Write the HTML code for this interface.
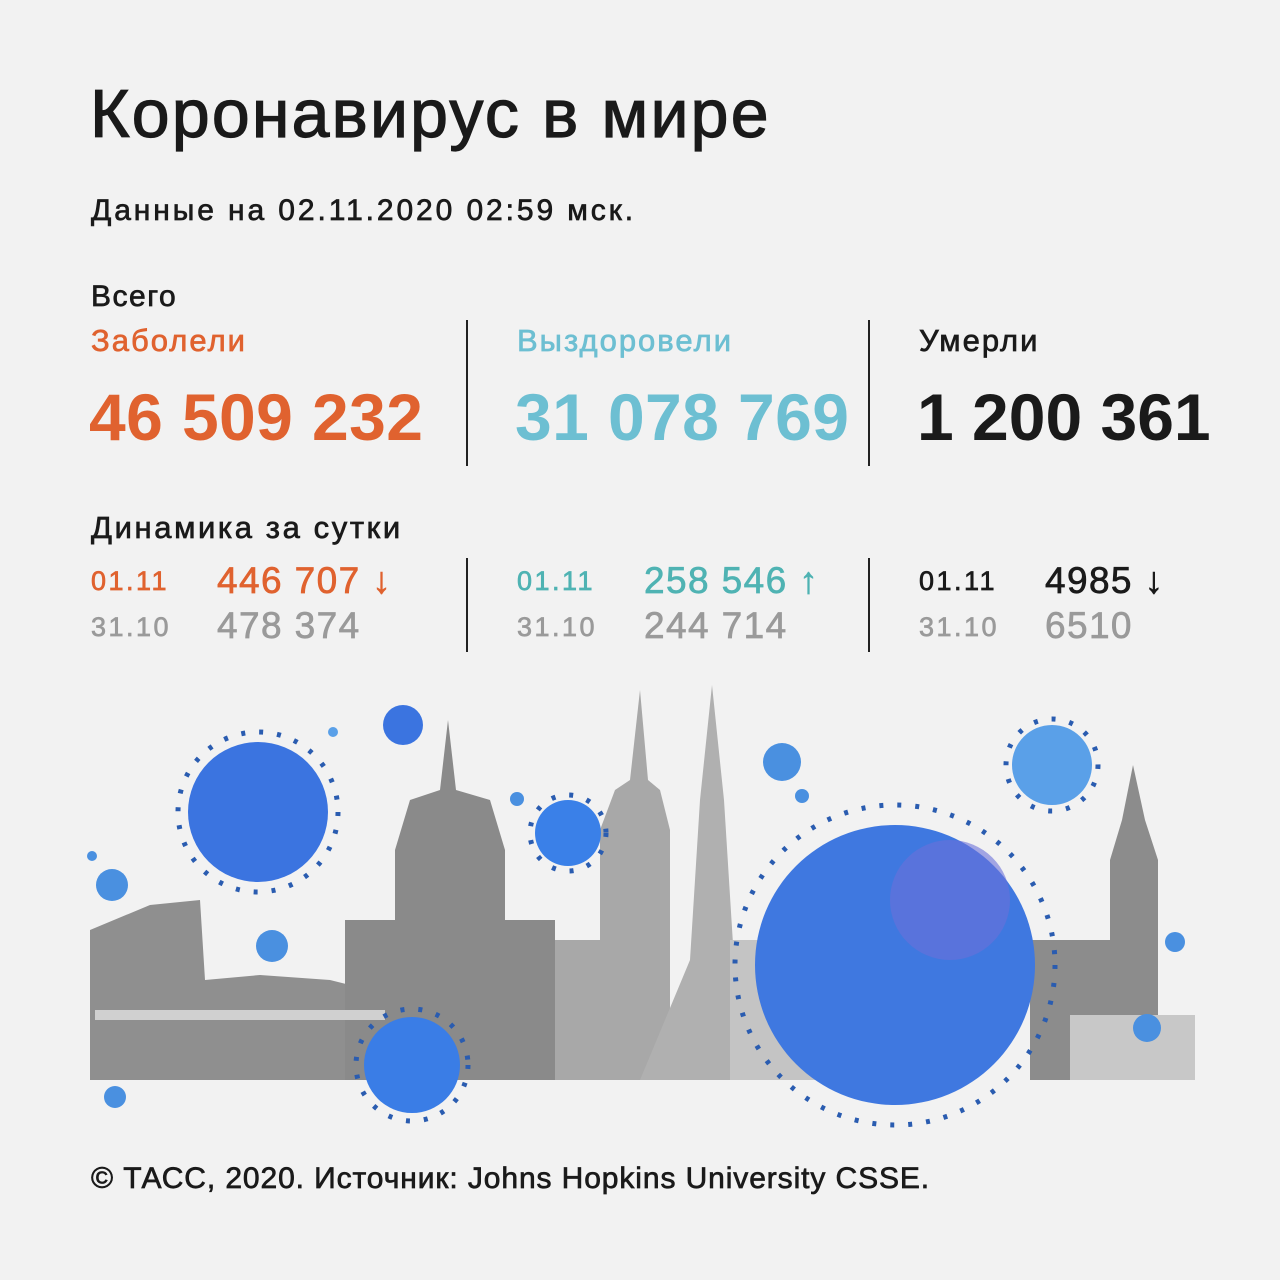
<!DOCTYPE html>
<html><head><meta charset="utf-8"><style>
body{margin:0;background:#f2f2f2;}
#c{position:relative;width:1280px;height:1280px;overflow:hidden;font-family:"Liberation Sans","DejaVu Sans",sans-serif;color:#1a1a1a;}
.t{position:absolute;white-space:nowrap;line-height:1;}
.st{-webkit-text-stroke:0.7px currentColor;}
.v{position:absolute;width:2px;background:#222;}
.or{color:#e0622f}.tl{color:#6dbfd2}.tl2{color:#4fb3b3}.gr{color:#9a9a9a}
</style></head><body><div id="c">
<div class="t st" style="left:90px;top:80px;font-size:68px;letter-spacing:2.2px;-webkit-text-stroke:1.2px #1a1a1a">Коронавирус в мире</div>
<div class="t st" style="left:91px;top:196px;font-size:30px;letter-spacing:2.9px;">Данные на 02.11.2020 02:59 мск.</div>
<div class="t st" style="left:91px;top:282px;font-size:30px;letter-spacing:1.5px;">Всего</div>
<div class="t st or" style="left:91px;top:325px;font-size:31px;letter-spacing:2px;">Заболели</div>
<div class="t st tl" style="left:517px;top:325px;font-size:31px;letter-spacing:2px;">Выздоровели</div>
<div class="t st" style="left:919px;top:325px;font-size:31px;letter-spacing:2px;">Умерли</div>
<div class="t or" style="left:89px;top:384px;font-size:66px;font-weight:bold;letter-spacing:0.4px;">46 509 232</div>
<div class="t tl" style="left:515px;top:384px;font-size:66px;font-weight:bold;letter-spacing:0.4px;">31 078 769</div>
<div class="t" style="left:917px;top:384px;font-size:66px;font-weight:bold;">1 200 361</div>
<div class="v" style="left:466px;top:320px;height:146px"></div>
<div class="v" style="left:868px;top:320px;height:146px"></div>
<div class="t st" style="left:91px;top:512px;font-size:31px;letter-spacing:2.6px;">Динамика за сутки</div>
<div class="t st or" style="left:91px;top:568px;font-size:27px;letter-spacing:2.5px;">01.11</div>
<div class="t st gr" style="left:91px;top:614px;font-size:27px;letter-spacing:2.5px;">31.10</div>
<div class="t st or" style="left:217px;top:562px;font-size:37px;letter-spacing:1.4px;">446 707 <b>↓</b></div>
<div class="t st gr" style="left:217px;top:607px;font-size:37px;letter-spacing:1.4px;">478 374</div>
<div class="t st tl2" style="left:517px;top:568px;font-size:27px;letter-spacing:2.5px;">01.11</div>
<div class="t st gr" style="left:517px;top:614px;font-size:27px;letter-spacing:2.5px;">31.10</div>
<div class="t st tl2" style="left:644px;top:562px;font-size:37px;letter-spacing:1.4px;">258 546 <b>↑</b></div>
<div class="t st gr" style="left:644px;top:607px;font-size:37px;letter-spacing:1.4px;">244 714</div>
<div class="t st" style="left:919px;top:568px;font-size:27px;letter-spacing:2.5px;">01.11</div>
<div class="t st gr" style="left:919px;top:614px;font-size:27px;letter-spacing:2.5px;">31.10</div>
<div class="t st" style="left:1045px;top:562px;font-size:37px;letter-spacing:1.4px;">4985 <b>↓</b></div>
<div class="t st gr" style="left:1045px;top:607px;font-size:37px;letter-spacing:1.4px;">6510</div>
<div class="v" style="left:466px;top:558px;height:94px"></div>
<div class="v" style="left:868px;top:558px;height:94px"></div>
<svg style="position:absolute;left:0;top:0" width="1280" height="1280">
<g fill="#a3a3a3">
<path d="M90 1080 L90 930 L150 905 L200 900 L205 980 L260 975 L330 980 L390 995 L390 1080Z" fill="#8f8f8f"/>
<path d="M345 1080 V920 H395 V850 L410 800 L440 790 L448 720 L456 790 L490 800 L505 850 V920 H555 V1080Z" fill="#8a8a8a"/>
<path d="M555 1080 V940 H600 V830 L615 790 L630 780 L640 690 L648 780 L660 790 L670 830 V1080Z" fill="#a8a8a8"/>
<path d="M640 1080 L690 960 L700 800 L712 685 L724 800 L734 960 L790 1080Z" fill="#b0b0b0"/>
<path d="M730 1080 V940 H820 V1080Z" fill="#c4c4c4"/>
<path d="M1030 1080 V940 H1110 V860 L1122 820 L1133 765 L1145 820 L1158 860 V1080Z" fill="#8c8c8c"/>
<path d="M1070 1080 V1015 H1195 V1080Z" fill="#c8c8c8"/>
</g>
<g fill="#d0d0d0"><rect x="95" y="1010" width="290" height="10"/></g>
<g>
<circle cx="258" cy="812" r="70" fill="#3b74e0"/><circle cx="403" cy="725" r="20" fill="#3b74e0"/>
<circle cx="568" cy="833" r="33" fill="#3a80e8"/><circle cx="1052" cy="765" r="40" fill="#5aa0e8"/>
<circle cx="412" cy="1065" r="48" fill="#3a7de6"/><circle cx="895" cy="965" r="140" fill="#3f78e0"/>
<circle cx="950" cy="900" r="60" fill="#6a70d8" opacity="0.6"/>
<circle cx="782" cy="762" r="19" fill="#4a90e0"/><circle cx="112" cy="885" r="16" fill="#4a90e0"/>
<circle cx="272" cy="946" r="16" fill="#4a90e0"/><circle cx="115" cy="1097" r="11" fill="#4a90e0"/>
<circle cx="1147" cy="1028" r="14" fill="#4a90e0"/><circle cx="1175" cy="942" r="10" fill="#4a90e0"/>
<circle cx="517" cy="799" r="7" fill="#4a90e0"/><circle cx="802" cy="796" r="7" fill="#4a90e0"/>
<circle cx="333" cy="732" r="5" fill="#5aa0e8"/><circle cx="92" cy="856" r="5" fill="#4a90e0"/>
</g>
<g stroke="#2a5cb0" stroke-width="5" stroke-dasharray="4 14" fill="none">
<circle cx="258" cy="812" r="80"/><circle cx="895" cy="965" r="160"/><circle cx="412" cy="1065" r="56"/><circle cx="1052" cy="765" r="46"/><circle cx="568" cy="833" r="38"/>
</g>
</svg>
<div class="t st" style="left:91px;top:1164px;font-size:30px;letter-spacing:0.9px;">© ТАСС, 2020. Источник: Johns Hopkins University CSSE.</div>
</div></body></html>
